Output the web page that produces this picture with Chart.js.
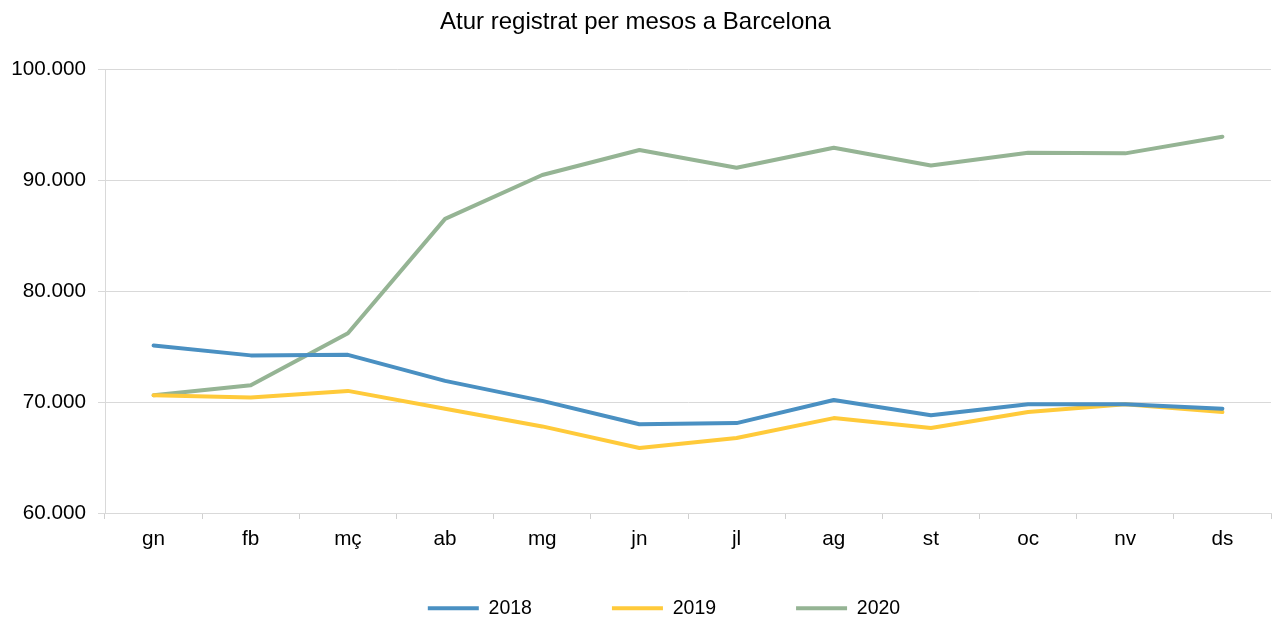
<!DOCTYPE html>
<html><head><meta charset="utf-8">
<script src="https://cdn.jsdelivr.net/npm/chart.js@4.4.1/dist/chart.umd.min.js"></script>
<style>html,body{margin:0;padding:0;background:#fff}#wrap{width:1273px;height:618px}</style>
</head><body><div id="wrap"><canvas id="c" width="1273" height="618"></canvas></div>
<script>
const categories = ['gn','fb','mç','ab','mg','jn','jl','ag','st','oc','nv','ds'];
const values2018 = [75100,74200,74250,71900,70100,68000,68100,70180,68800,69800,69800,69400];
const values2019 = [70600,70400,71000,69400,67800,65850,66750,68550,67650,69100,69800,69100];
const values2020 = [70600,71500,76200,86500,90450,92700,91100,92900,91300,92450,92400,93900];
const yTicks = [60000,70000,80000,90000,100000];

const fmt = v => String(v).replace(/\B(?=(\d{3})+(?!\d))/g,'.');
const FAM = '"Liberation Sans", Arial, sans-serif';
const tickFont = {family: FAM, size: 20.7};
const legendFont = {family: FAM, size: 19.5};
Chart.defaults.font = {family: FAM, size: 18};
Chart.defaults.color = '#000';

const LEG_H = 55, LEG_SHIFT_Y = 44.5, LEG_SHIFT_X = 28.5;
const legendFix = {
  id: 'legendFix',
  beforeLayout(chart) {
    const lg = chart.legend;
    if (lg && !lg.__patched) {
      const f = lg.fit;
      lg.fit = function(){ f.call(this); this.height = LEG_H; };
      lg.__patched = true;
    }
  },
  afterLayout(chart) {
    const lg = chart.legend;
    lg.top -= LEG_SHIFT_Y;
    lg.left += LEG_SHIFT_X; lg.right += LEG_SHIFT_X;
  }
};

function ds(label, data, color){
  return {label, data, borderColor: color, backgroundColor: color, borderWidth: 4,
    pointRadius: 0, tension: 0, borderCapStyle: 'round', borderJoinStyle: 'round', fill: false};
}

new Chart(document.getElementById('c'), {
  type: 'line',
  data: { labels: categories, datasets: [
    ds('2018', values2018, '#4a90c2'),
    ds('2019', values2019, '#ffca3a'),
    ds('2020', values2020, '#95b494')
  ]},
  plugins: [legendFix],
  options: {
    responsive: false, animation: false,
    layout: {padding: {left: 0, right: 2, top: 0, bottom: 0}},
    plugins: {
      title: {display: true, text: 'Atur registrat per mesos a Barcelona', color:'#000',
        font: {family: FAM, size: 24, weight: 'normal'}, padding: {top: 7.6, bottom: 32.6}},
      legend: {position: 'bottom',
        labels: {usePointStyle: true, pointStyle: 'line', pointStyleWidth: 51, padding: 80,
          color:'#000', font: legendFont}},
      tooltip: {enabled: false}
    },
    scales: {
      x: {offset: true,
        afterFit: s => { s.height = 50; },
        grid: {offset: true, drawOnChartArea: false, tickLength: 6, color: '#d0d0d0'},
        border: {color: '#d9d9d9'},
        ticks: {padding: 8, font: tickFont, color: '#000'}
      },
      y: {min: 60000, max: 100000,
        afterBuildTicks: s => { s.ticks = yTicks.map(v => ({value: v})); },
        afterFit: s => { s.width = 105; },
        grid: {color: '#d9d9d9', tickLength: 7},
        border: {color: '#d9d9d9'},
        ticks: {padding: 12, font: tickFont, color: '#000', callback: v => fmt(v)}
      }
    }
  }
});
</script></body></html>
